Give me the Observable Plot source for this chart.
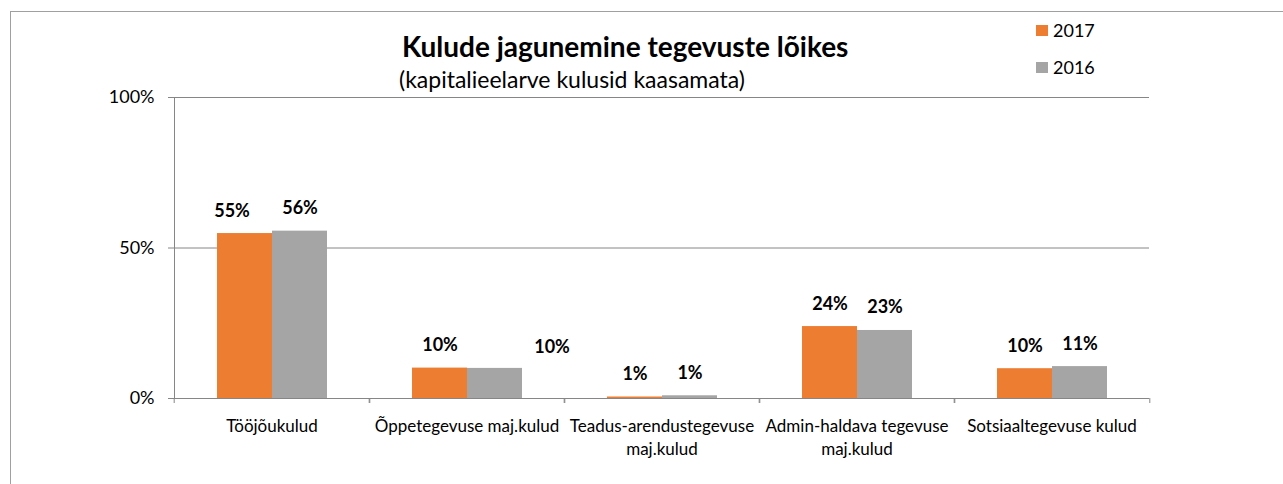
<!DOCTYPE html>
<html>
<head>
<meta charset="utf-8">
<script src="https://cdn.jsdelivr.net/npm/d3@7"></script>
<script src="https://cdn.jsdelivr.net/npm/@observablehq/plot@0.6"></script>
<style>
  html, body { margin: 0; padding: 0; background: #fff; overflow: hidden; width: 1283px; height: 484px; }
  #wrap { position: relative; width: 1283px; height: 484px; font-family: Lato, sans-serif; color: #000; }
  #border { position: absolute; left: 10px; top: 11px; width: 1400px; height: 700px; border: 1px solid #a0a0a0; box-sizing: border-box; }
  #title { position: absolute; left: 402px; top: 32px; font-size: 28px; font-weight: bold; line-height: 1; white-space: nowrap; }
  #subtitle { position: absolute; left: 399px; top: 68px; font-size: 23px; line-height: 1; white-space: nowrap; }
  #legend { position: absolute; left: 1036px; top: 21px; font-size: 18px; line-height: 1; }
  .item { display: flex; align-items: center; height: 18px; margin-bottom: 19px; }
  .sw { width: 12px; height: 11px; margin-right: 5px; }
  #chart { position: absolute; left: 0; top: 80px; }
  #chart svg { overflow: visible; }
</style>
</head>
<body>
<div id="wrap">
  <div id="border"></div>
  <div id="title"></div>
  <div id="subtitle"></div>
  <div id="legend"></div>
  <div id="chart"></div>
</div>
<script>
const titleText = "Kulude jagunemine tegevuste lõikes";
const subtitleText = "(kapitalieelarve kulusid kaasamata)";
const categories = ["Tööjõukulud", "Õppetegevuse maj.kulud", "Teadus-arendustegevuse maj.kulud", "Admin-haldava tegevuse maj.kulud", "Sotsiaaltegevuse kulud"];
const categoryLabels = ["Tööjõukulud", "Õppetegevuse maj.kulud", "Teadus-arendustegevuse\nmaj.kulud", "Admin-haldava tegevuse\nmaj.kulud", "Sotsiaaltegevuse kulud"];
const series = ["2017", "2016"];
const values2017 = [54.8, 10.1, 0.5, 23.9, 9.9];
const values2016 = [55.6, 10.0, 0.9, 22.6, 10.6];
const colors = ["#ED7D31", "#A5A5A5"];
const yTicks = [0, 50, 100];

document.getElementById("title").textContent = titleText;
document.getElementById("subtitle").textContent = subtitleText;
const legend = document.getElementById("legend");
series.forEach((s, i) => {
  const item = document.createElement("div");
  item.className = "item";
  const sw = document.createElement("span");
  sw.className = "sw";
  sw.style.background = colors[i];
  const t = document.createElement("span");
  t.textContent = s;
  item.appendChild(sw); item.appendChild(t);
  legend.appendChild(item);
});

const valuesBySeries = {"2017": values2017, "2016": values2016};
const rows = categories.flatMap((c, i) => series.map(s => ({category: c, series: s, value: valuesBySeries[s][i]})));

const W = 1283, H = 404, ML = 172, MR = 133, MT = 17, MB = 86;
const halfBand = (W - ML - MR) / categories.length / 2;
const axisColor = "#868686";
const fmt = d => Math.round(d.value) + "%";
const isMovedLeft = d => d.category === categories[0] && d.series === series[0];
const isMovedRight = d => d.category === categories[1] && d.series === series[1];

const chart = Plot.plot({
  width: W, height: H,
  marginLeft: ML, marginRight: MR, marginTop: MT, marginBottom: MB,
  style: {fontFamily: "Lato, sans-serif", fontSize: "18px", color: "#000", background: "transparent"},
  fx: {domain: categories, padding: 0, label: null},
  x: {domain: series, paddingInner: 0, paddingOuter: 0.746, axis: null},
  y: {domain: [0, 100], label: null},
  color: {domain: series, range: colors},
  marks: [
    Plot.ruleY(yTicks.slice(1), {stroke: axisColor, strokeWidth: 1}),
    Plot.barY(rows, {fx: "category", x: "series", y: "value", fill: "series"}),
    Plot.ruleY([0], {stroke: axisColor}),
    Plot.frame({anchor: "left", stroke: axisColor, facetAnchor: "left"}),
    Plot.axisY({ticks: yTicks, tickFormat: d => d + "%", tickSize: 6, tickPadding: 14, stroke: axisColor, fill: "#000", label: null, fontSize: 18}),
    Plot.axisFx({anchor: "bottom", tickSize: 5, dx: -halfBand, tickFormat: () => "", stroke: axisColor, label: null}),
    Plot.axisFx({anchor: "bottom", tickSize: 5, dx: halfBand, tickFormat: () => "", stroke: axisColor, label: null}),
    Plot.axisFx({anchor: "bottom", tickSize: 0, tickPadding: 17, tickFormat: c => categoryLabels[categories.indexOf(c)], lineHeight: 1.35, fill: "#000", label: null, fontSize: 17}),
    Plot.text(rows, {filter: d => !isMovedLeft(d) && !isMovedRight(d), fx: "category", x: "series", y: "value", text: fmt, lineAnchor: "bottom", dy: -17, fontWeight: "bold", fontSize: 18, fill: "#000"}),
    Plot.text(rows, {filter: isMovedLeft, fx: "category", x: "series", y: "value", text: fmt, lineAnchor: "bottom", dy: -17, dx: -13, fontWeight: "bold", fontSize: 18, fill: "#000"}),
    Plot.text(rows, {filter: isMovedRight, fx: "category", x: "series", y: "value", text: fmt, lineAnchor: "bottom", dy: -15, dx: 57, fontWeight: "bold", fontSize: 18, fill: "#000"})
  ]
});
document.getElementById("chart").appendChild(chart);
</script>
</body>
</html>
